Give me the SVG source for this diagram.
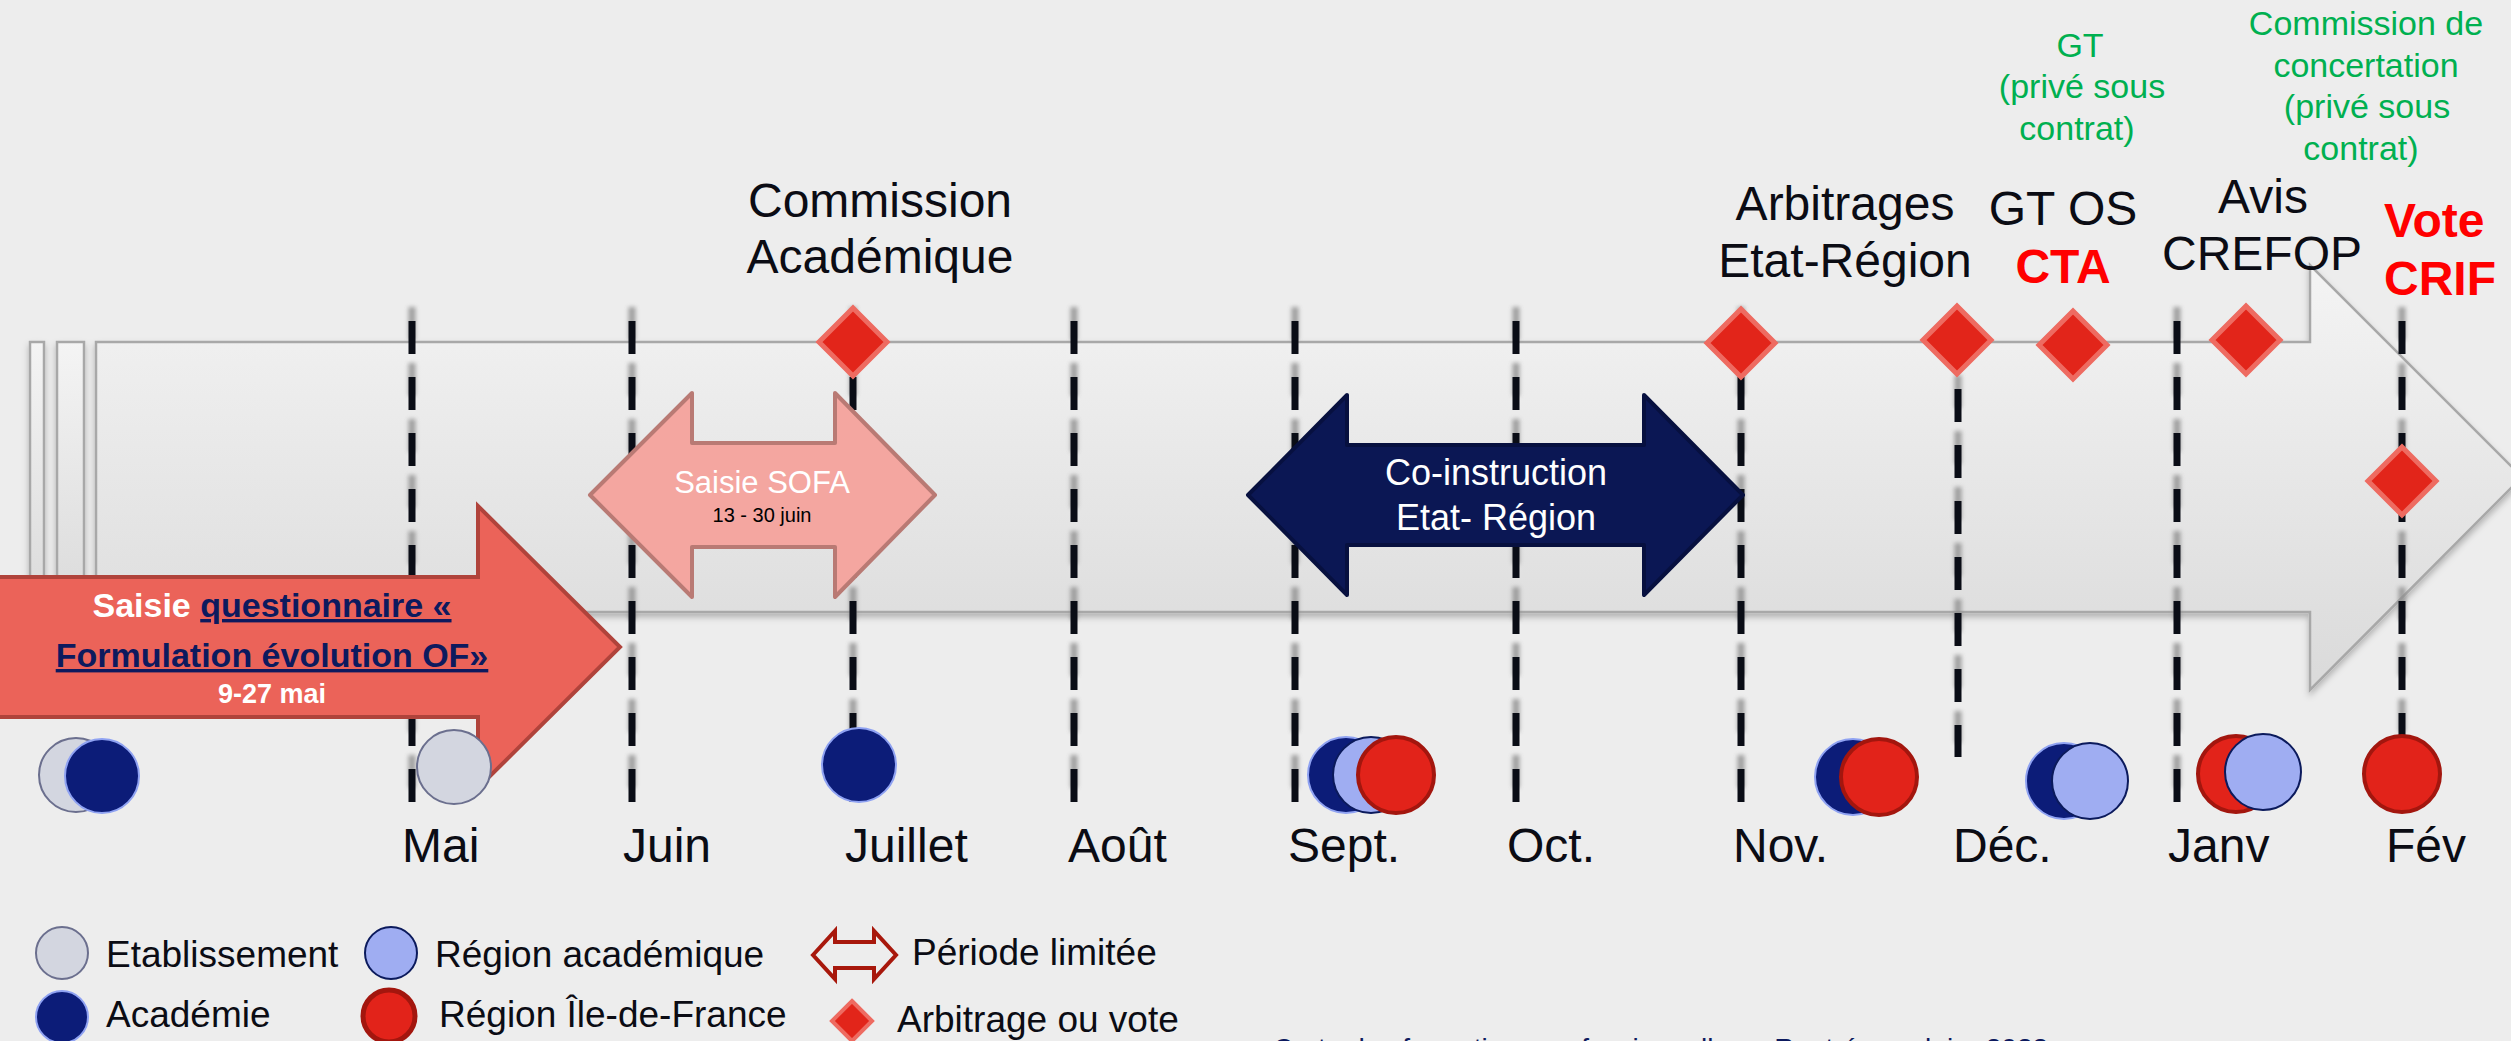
<svg xmlns="http://www.w3.org/2000/svg" width="2511" height="1041" viewBox="0 0 2511 1041">
<defs>
<linearGradient id="gbar" x1="0" y1="0" x2="0" y2="1">
<stop offset="0" stop-color="#f4f4f4"/>
<stop offset="1" stop-color="#dadada"/>
</linearGradient>
<filter id="blur" x="-50%" y="-10%" width="200%" height="120%"><feGaussianBlur stdDeviation="2"/></filter>
<filter id="shadow" x="-5%" y="-10%" width="110%" height="125%"><feDropShadow dx="0" dy="4" stdDeviation="3" flood-color="#000" flood-opacity="0.25"/></filter>
<path id="dmd" d="M0,-34 L34,0 L0,34 L-34,0 Z"/>
<path id="dmds" d="M0,-20 L20,0 L0,20 L-20,0 Z"/>
</defs>
<style>
text{font-family:"Liberation Sans",Arial,sans-serif}
.lbl{font-size:48px;fill:#0b0c14}
.mid{text-anchor:middle}
.green{font-size:34px;fill:#00b050;text-anchor:middle}
.redb{font-weight:bold;fill:#ff0000}
.leg{font-size:37px;fill:#0b0c14}
.dash{stroke:#0a0d16;stroke-width:7;stroke-dasharray:33 23;fill:none}
.dsh{stroke:#8c8c8c;stroke-width:7;stroke-dasharray:33 23;fill:none;filter:url(#blur);opacity:0.8}
.dia{fill:#e2251a;stroke:#ee6b61;stroke-width:5}
.cg{fill:#d3d6e0;stroke:#6b6f8e;stroke-width:2}
.cn{fill:#0c1c78;stroke:#8fa2f2;stroke-width:2}
.cb{fill:#9fadf2;stroke:#0b1a5c;stroke-width:2}
.cr{fill:#e2231a;stroke:#a3160e;stroke-width:4}
</style>
<rect width="2511" height="1041" fill="#ededed"/>

<g id="timeline-bar" filter="url(#shadow)">
<rect x="30" y="342" width="14" height="270" fill="url(#gbar)" stroke="#a8a8a8" stroke-width="2.5"/>
<rect x="57" y="342" width="27" height="270" fill="url(#gbar)" stroke="#a8a8a8" stroke-width="2.5"/>
<path d="M96,342 L2310,342 L2310,265 L2522,477 L2310,690 L2310,612 L96,612 Z" fill="url(#gbar)" stroke="#a8a8a8" stroke-width="2.5"/>
</g>

<g id="month-lines">
<g class="dsh" transform="translate(0,-14)">
<line x1="412" y1="321" x2="412" y2="802"/>
<line x1="632" y1="321" x2="632" y2="802"/>
<line x1="853" y1="321" x2="853" y2="802"/>
<line x1="1074" y1="321" x2="1074" y2="802"/>
<line x1="1295" y1="321" x2="1295" y2="802"/>
<line x1="1516" y1="321" x2="1516" y2="802"/>
<line x1="1741" y1="321" x2="1741" y2="802"/>
<line x1="1958" y1="389" x2="1958" y2="757"/>
<line x1="2177" y1="321" x2="2177" y2="802"/>
<line x1="2402" y1="321" x2="2402" y2="802"/>
</g>
<g class="dash">
<line x1="412" y1="321" x2="412" y2="802"/>
<line x1="632" y1="321" x2="632" y2="802"/>
<line x1="853" y1="321" x2="853" y2="802"/>
<line x1="1074" y1="321" x2="1074" y2="802"/>
<line x1="1295" y1="321" x2="1295" y2="802"/>
<line x1="1516" y1="321" x2="1516" y2="802"/>
<line x1="1741" y1="321" x2="1741" y2="802"/>
<line x1="1958" y1="389" x2="1958" y2="757"/>
<line x1="2177" y1="321" x2="2177" y2="802"/>
<line x1="2402" y1="321" x2="2402" y2="802"/>
</g>
</g>

<g id="saisie-questionnaire">
<path d="M-5,577 L478,577 L478,506 L620,647 L478,788 L478,717 L-5,717 Z" fill="#eb6359" stroke="#b0433b" stroke-width="4"/>
<text x="272" y="617" text-anchor="middle" font-size="34" font-weight="bold" fill="#ffffff">Saisie <tspan fill="#0d1a5e" text-decoration="underline">questionnaire «</tspan></text>
<text x="272" y="667" text-anchor="middle" font-size="34" font-weight="bold" fill="#0d1a5e" text-decoration="underline">Formulation évolution OF»</text>
<text x="272" y="703" text-anchor="middle" font-size="27" font-weight="bold" fill="#ffffff">9-27 mai</text>
</g>

<g id="saisie-sofa">
<path d="M590,495 L692,393 L692,443 L835,443 L835,393 L935,495 L835,597 L835,547 L692,547 L692,597 Z" fill="#f4a6a0" stroke="#b97a74" stroke-width="4" stroke-linejoin="round"/>
<text x="762" y="493" text-anchor="middle" font-size="31" fill="#ffffff">Saisie SOFA</text>
<text x="762" y="522" text-anchor="middle" font-size="20" fill="#000000">13 - 30 juin</text>
</g>

<g id="co-instruction">
<path d="M1248,495 L1347,395 L1347,445 L1644,445 L1644,395 L1743,495 L1644,595 L1644,545 L1347,545 L1347,595 Z" fill="#0b1754" stroke="#07103f" stroke-width="4" stroke-linejoin="round"/>
<text x="1496" y="485" text-anchor="middle" font-size="36" fill="#ffffff">Co-instruction</text>
<text x="1496" y="530" text-anchor="middle" font-size="36" fill="#ffffff">Etat- Région</text>
</g>

<g id="commission-academique">
<use href="#dmd" class="dia" x="853" y="342"/>
<text class="lbl mid" x="880" y="217">Commission</text>
<text class="lbl mid" x="880" y="273">Académique</text>
</g>

<g id="arbitrages">
<use href="#dmd" class="dia" x="1741" y="343"/>
<text class="lbl mid" x="1845" y="220">Arbitrages</text>
<text class="lbl mid" x="1845" y="277">Etat-Région</text>
</g>

<g id="gt-os">
<use href="#dmd" class="dia" x="1957" y="340"/>
<text class="lbl mid" x="2063" y="225">GT OS</text>
<text class="lbl mid redb" x="2063" y="283">CTA</text>
</g>

<g id="gt-prive">
<use href="#dmd" class="dia" x="2073" y="345"/>
<text class="green" x="2080" y="57">GT</text>
<text class="green" x="2082" y="98">(privé sous</text>
<text class="green" x="2077" y="140">contrat)</text>
</g>

<g id="avis-crefop">
<use href="#dmd" class="dia" x="2246" y="340"/>
<text class="lbl mid" x="2263" y="213">Avis</text>
<text class="lbl mid" x="2262" y="270">CREFOP</text>
</g>

<g id="commission-concertation">
<text class="green" x="2366" y="35">Commission de</text>
<text class="green" x="2366" y="77">concertation</text>
<text class="green" x="2367" y="118">(privé sous</text>
<text class="green" x="2361" y="160">contrat)</text>
</g>

<g id="vote-crif">
<use href="#dmd" class="dia" x="2402" y="481"/>
<text class="lbl redb" x="2384" y="237">Vote</text>
<text class="lbl redb" x="2384" y="295">CRIF</text>
</g>

<g id="actors">
<circle class="cg" cx="76" cy="775" r="37"/>
<circle class="cn" cx="102" cy="776" r="37"/>
<circle class="cg" cx="454" cy="767" r="37"/>
<circle class="cn" cx="859" cy="765" r="37"/>
<circle class="cn" cx="1346" cy="775" r="38"/>
<circle class="cb" cx="1371" cy="775" r="38"/>
<circle class="cr" cx="1396" cy="775" r="38"/>
<circle class="cn" cx="1853" cy="777" r="38"/>
<circle class="cr" cx="1879" cy="777" r="38"/>
<circle class="cn" cx="2064" cy="781" r="38"/>
<circle class="cb" cx="2090" cy="781" r="38"/>
<circle class="cr" cx="2236" cy="774" r="38"/>
<circle class="cb" cx="2263" cy="772" r="38"/>
<circle class="cr" cx="2402" cy="774" r="38"/>
</g>

<g id="months">
<text class="lbl" x="402" y="862">Mai</text>
<text class="lbl" x="623" y="862">Juin</text>
<text class="lbl" x="845" y="862">Juillet</text>
<text class="lbl" x="1068" y="862">Août</text>
<text class="lbl" x="1288" y="862">Sept.</text>
<text class="lbl" x="1507" y="862">Oct.</text>
<text class="lbl" x="1733" y="862">Nov.</text>
<text class="lbl" x="1953" y="862">Déc.</text>
<text class="lbl" x="2168" y="862">Janv</text>
<text class="lbl" x="2386" y="862">Fév</text>
</g>

<g id="legend">
<circle class="cg" cx="62" cy="953" r="26"/>
<text class="leg" x="106" y="967">Etablissement</text>
<circle class="cb" cx="391" cy="953" r="26"/>
<text class="leg" x="435" y="967">Région académique</text>
<path d="M813,955 L835,931 L835,942 L874,942 L874,931 L896,955 L874,979 L874,968 L835,968 L835,979 Z" fill="#ededed" stroke="#a8180c" stroke-width="4"/>
<text class="leg" x="912" y="965">Période limitée</text>
<circle class="cn" cx="62" cy="1017" r="26"/>
<text class="leg" x="106" y="1027">Académie</text>
<circle cx="389" cy="1016" r="26" fill="#e2231a" stroke="#a3160e" stroke-width="5"/>
<text class="leg" x="439" y="1027">Région Île-de-France</text>
<use href="#dmds" class="dia" x="852" y="1021" style="stroke-width:4"/>
<text class="leg" x="897" y="1032">Arbitrage ou vote</text>
</g>

<g id="footer">
<text x="1273" y="1058" font-size="28" fill="#0d1a5e">Carte des formations professionnelles – Rentrée scolaire 2023</text>
</g>
</svg>
